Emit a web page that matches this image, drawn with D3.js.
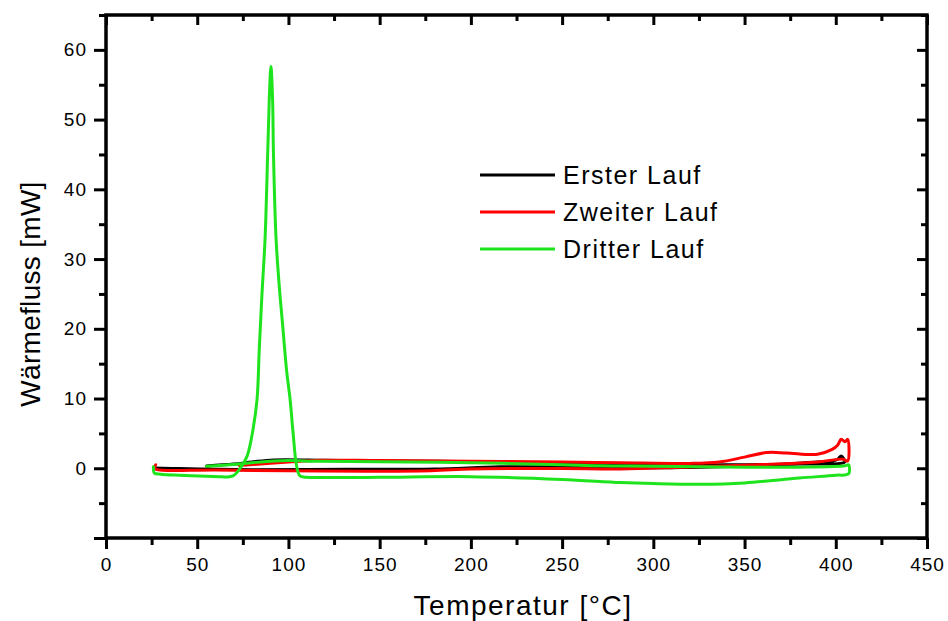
<!DOCTYPE html>
<html>
<head>
<meta charset="utf-8">
<script src="https://cdn.jsdelivr.net/npm/d3@7"></script>
<style>
  body { margin: 0; background: #fff; }
  svg { display: block; font-family: "Liberation Sans", Arial, sans-serif; }
</style>
</head>
<body>
<svg id="chart" width="948" height="621"></svg>
<script>
// Erster Lauf (schwarz)
const ersterT = [26, 40, 80, 132, 180, 216, 250, 282, 316, 362, 390, 398, 401, 403, 404.5, 405, 380, 340, 300, 250, 200, 150, 120, 92, 80, 70, 55];
const ersterW = [0.05, -0.05, -0.2, -0.15, -0.1, 0.2, 0.2, 0.1, 0.1, 0.5, 0.9, 1.0, 1.3, 1.76, 1.3, 0.9, 0.6, 0.5, 0.45, 0.7, 0.95, 1.05, 1.15, 1.2, 0.9, 0.6, 0.33];

// Zweiter Lauf (rot)
const zweiterT = [27.2, 26.6, 27.5, 60, 117, 178, 200, 250, 282, 316, 362, 390, 404, 406.5, 406.5, 405, 403, 401, 398, 390, 373, 362, 350, 336, 320, 282, 250, 200, 150, 117, 100, 73];
const zweiterW = [0.5, 0.15, -0.15, -0.25, -0.4, -0.35, -0.1, -0.05, -0.1, 0.15, 0.55, 0.9, 1.3, 1.05, 4.15, 3.8, 4.15, 3.3, 2.7, 2.0, 2.2, 2.25, 1.6, 0.9, 0.7, 0.8, 0.9, 1.0, 1.1, 1.15, 0.9, 0.4];

// Dritter Lauf (gruen)
const dritterT = [26, 26.5, 30, 40, 55, 62, 66, 69.6, 73, 77.3, 80.6, 82.8, 84, 85.5, 87.2, 88.6, 89.5, 90.4, 91.3, 91.8, 93.2, 95, 97, 99, 100.9, 102.5, 104.5, 106.3, 110, 117, 150, 200, 250, 282, 300, 326, 350, 380, 400, 407, 407, 405, 380, 350, 300, 271, 250, 200, 150, 117, 100, 92, 80, 70, 55];
const dritterW = [0.2, -0.7, -0.85, -1.0, -1.15, -1.2, -1.25, -1.1, -0.2, 1.7, 5.6, 9.9, 17, 25, 33, 45, 53, 57.6, 53, 45, 33, 26, 20, 14, 9.9, 5.2, 0.3, -1.1, -1.3, -1.33, -1.3, -1.2, -1.6, -2.05, -2.2, -2.3, -2.1, -1.4, -1.0, -0.8, 0.5, 0.35, 0.15, 0.15, 0.3, 0.35, 0.5, 0.8, 0.95, 1.0, 1.1, 1.05, 0.8, 0.55, 0.3];

const seriesNames = ["Erster Lauf", "Zweiter Lauf", "Dritter Lauf"];
const seriesColors = ["#000000", "#ff0000", "#1ee41e"];

const xMajor = d3.range(0, 451, 50);
const xMinor = d3.range(25, 451, 50);
const yMajor = d3.range(-10, 61, 10);
const yMinor = d3.range(-5, 66, 10);

const svg = d3.select("#chart");
const m = { left: 106, right: 927, top: 15, bottom: 538 };

const x = d3.scaleLinear().domain([0, 450]).range([m.left, m.right]);
const y = d3.scaleLinear().domain([-10, 65]).range([m.bottom, m.top]);

const series = [
  d3.zip(ersterT, ersterW),
  d3.zip(zweiterT, zweiterW),
  d3.zip(dritterT, dritterW)
];

const line = d3.line()
  .x(d => x(d[0]))
  .y(d => y(d[1]))
  .curve(d3.curveCatmullRom.alpha(0.5));

svg.append("g").selectAll("path")
  .data(series)
  .enter()
  .append("path")
  .attr("d", line)
  .attr("fill", "none")
  .attr("stroke", (d, i) => seriesColors[i])
  .attr("stroke-width", 3)
  .attr("stroke-linejoin", "round")
  .attr("stroke-linecap", "round");

// axes
function styleAxis(g) {
  g.select(".domain").remove();
  g.selectAll(".tick line").attr("stroke", "#000").attr("stroke-width", 3);
  g.selectAll(".tick text").attr("fill", "#000")
    .style("font-size", "19px").style("letter-spacing", "1px");
}

svg.append("g").attr("transform", `translate(0,${m.bottom})`)
  .call(d3.axisBottom(x).tickValues(xMajor).tickSize(11).tickPadding(9).tickFormat(d3.format("d")))
  .call(styleAxis);
svg.append("g").attr("transform", `translate(0,${m.bottom})`)
  .call(d3.axisBottom(x).tickValues(xMinor).tickSize(7).tickFormat(""))
  .call(styleAxis);
svg.append("g").attr("transform", `translate(0,${m.top})`)
  .call(d3.axisBottom(x).tickValues(xMajor).tickSize(10).tickFormat(""))
  .call(styleAxis);
svg.append("g").attr("transform", `translate(0,${m.top})`)
  .call(d3.axisBottom(x).tickValues(xMinor).tickSize(6).tickFormat(""))
  .call(styleAxis);

svg.append("g").attr("transform", `translate(${m.left},0)`)
  .call(d3.axisLeft(y).tickValues(yMajor).tickSize(12).tickPadding(7).tickFormat(d => d < 0 ? "" : d))
  .call(styleAxis);
svg.append("g").attr("transform", `translate(${m.left},0)`)
  .call(d3.axisLeft(y).tickValues(yMinor).tickSize(7).tickFormat(""))
  .call(styleAxis);
svg.append("g").attr("transform", `translate(${m.right},0)`)
  .call(d3.axisRight(y).tickValues(yMajor).tickSize(-10).tickFormat(""))
  .call(styleAxis);
svg.append("g").attr("transform", `translate(${m.right},0)`)
  .call(d3.axisRight(y).tickValues(yMinor).tickSize(-6).tickFormat(""))
  .call(styleAxis);

// frame
svg.append("rect")
  .attr("x", m.left).attr("y", m.top)
  .attr("width", m.right - m.left).attr("height", m.bottom - m.top)
  .attr("fill", "none").attr("stroke", "#000").attr("stroke-width", 3.5);

// axis titles
svg.append("text")
  .attr("x", 523).attr("y", 615)
  .attr("text-anchor", "middle")
  .style("font-size", "28px").style("letter-spacing", "1.5px")
  .text("Temperatur [°C]");
svg.append("text")
  .attr("transform", `translate(40,294) rotate(-90)`)
  .attr("text-anchor", "middle")
  .style("font-size", "28px").style("letter-spacing", "0.3px")
  .text("Wärmefluss [mW]");

// legend
const legend = svg.append("g").selectAll("g")
  .data(seriesNames)
  .enter()
  .append("g")
  .attr("transform", (d, i) => `translate(480,${175 + i * 37})`);
legend.append("line")
  .attr("x1", 0).attr("x2", 75)
  .attr("stroke", (d, i) => seriesColors[i])
  .attr("stroke-width", 3);
legend.append("text")
  .attr("x", 83).attr("y", 9)
  .style("font-size", "25px").style("letter-spacing", "1.5px")
  .text(d => d);
</script>
</body>
</html>
